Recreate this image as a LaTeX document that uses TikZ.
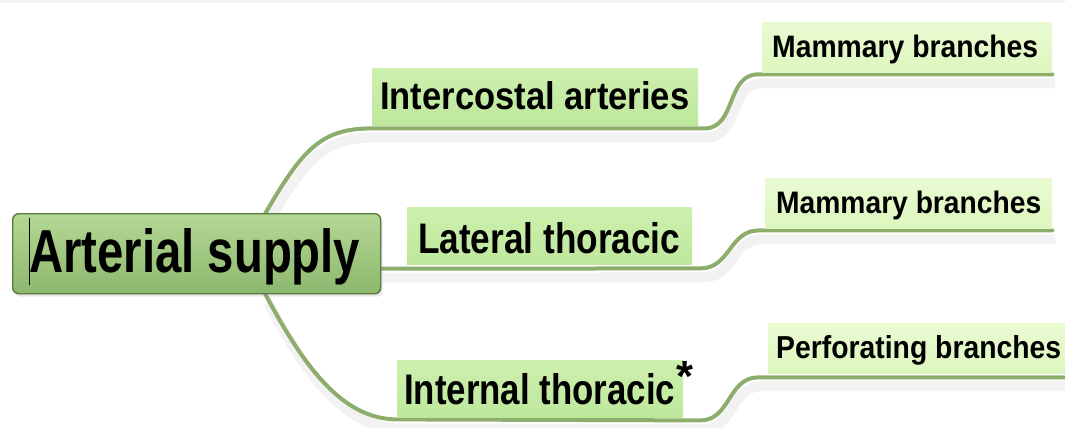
\documentclass[tikz,border=0pt]{standalone}
\usepackage{fontspec}
\setmainfont{Liberation Sans}
\usepackage{graphicx}
\usetikzlibrary{calc,shadows}
\pgfdeclarelayer{background}
\pgfsetlayers{background,main}
\definecolor{lineg}{HTML}{8DAD6C}
\definecolor{rootTop}{HTML}{B4D894}
\definecolor{rootBot}{HTML}{8DB76E}
\definecolor{rootBorder}{HTML}{5A7A3E}
\definecolor{subTop}{HTML}{CDF0AE}
\definecolor{subBot}{HTML}{BEE79C}
\definecolor{leafTop}{HTML}{EAFBD2}
\definecolor{leafBot}{HTML}{DDF6BE}
\definecolor{topstrip}{HTML}{F3F3F3}
\tikzset{
  rootbox/.style={draw=rootBorder, line width=1.4pt, rounded corners=6pt,
    top color=rootTop, bottom color=rootBot, anchor=north west, inner sep=0pt,
    drop shadow={opacity=0.18, shadow xshift=2pt, shadow yshift=-3pt}},
  subbox/.style={top color=subTop, bottom color=subBot, draw=none, anchor=north west, inner sep=0pt},
  leafbox/.style={top color=leafTop, bottom color=leafBot, draw=none, anchor=north west, inner sep=0pt},
  lbl/.style={anchor=base west, inner sep=0pt, text=black, font=\bfseries},
  conn/.style={draw=lineg, line width=4pt, line cap=round,
    preaction={draw=black!5, line width=10pt, transform canvas={shift={(3pt,-9pt)}}}}
}
\begin{document}
\begin{tikzpicture}[x=1pt,y=-1pt]
\useasboundingbox (0,0) rectangle (1065,428);
\fill[topstrip] (0,0) rectangle (1065,3.5);

% boxes
\node[rootbox, minimum width=368pt, minimum height=80pt] (root) at (12,213) {};
\node[subbox, minimum width=326pt, minimum height=57pt] (ic) at (372,68) {};
\node[subbox, minimum width=285pt, minimum height=57pt] (lat) at (407,207) {};
\node[subbox, minimum width=286pt, minimum height=57pt] (it) at (397,360) {};
\node[leafbox, minimum width=290pt, minimum height=50pt] (m1) at (762,22) {};
\node[leafbox, minimum width=287pt, minimum height=50pt] (m2) at (765,178) {};
\node[leafbox, minimum width=300pt, minimum height=50pt] (pf) at (768,323) {};

% connectors
\begin{pgfonlayer}{background}
\draw[conn] ([xshift=253pt,yshift=-1pt]root.north west) .. controls +(38,-66) and +(-50,0) .. ([yshift=-3pt]ic.south west) -- ([yshift=-3pt,xshift=6pt]ic.south east)
  .. controls +(32,0) and +(-32,0) .. ([yshift=-2pt,xshift=-4pt]m1.south west) -- ([yshift=-2pt]m1.south east);
\draw[conn] ([yshift=-15pt,xshift=-2pt]root.east) -- ([yshift=-4pt,xshift=8pt]lat.south east)
  .. controls +(30,0) and +(-30,0) .. ([yshift=-2pt,xshift=-6pt]m2.south west) -- ([yshift=-2pt]m2.south east);
\draw[conn] ([xshift=253pt,yshift=1pt]root.south west) .. controls +(38,72) and +(-55,0) .. ([yshift=-2pt]it.south west) -- ([yshift=-3pt,xshift=17pt]it.south east)
  .. controls +(30,0) and +(-30,0) .. ([yshift=-4pt,xshift=-10pt]pf.south west) -- ([yshift=-4pt]pf.south east);
\end{pgfonlayer}

% labels
\node[lbl] (rootl) at (29,272) {\resizebox{331pt}{44pt}{Arterial supply}};
\draw[black, line width=0.8pt] ([xshift=0pt,yshift=10pt]rootl.north west) -- ([yshift=-13pt]rootl.base west);
\node[lbl] (icl) at (380,109.5) {\resizebox{309pt}{28pt}{Intercostal arteries}};
\node[lbl] (latl) at (418,253.5) {\resizebox{262pt}{31pt}{Lateral thoracic}};
\node[lbl] (itl) at (404,404) {\resizebox{271pt}{31pt}{Internal thoracic}};
\node[anchor=north, inner sep=0pt, font=\bfseries] (ast) at (684.5,361) {\resizebox{17pt}{!}{*}};
\node[lbl] (m1l) at (772,57.5) {\resizebox{266pt}{22.5pt}{Mammary branches}};
\node[lbl] (m2l) at (776,213) {\resizebox{265pt}{22.5pt}{Mammary branches}};
\node[lbl] (pfl) at (776,358) {\resizebox{285pt}{23pt}{Perforating branches}};
\end{tikzpicture}
\end{document}
